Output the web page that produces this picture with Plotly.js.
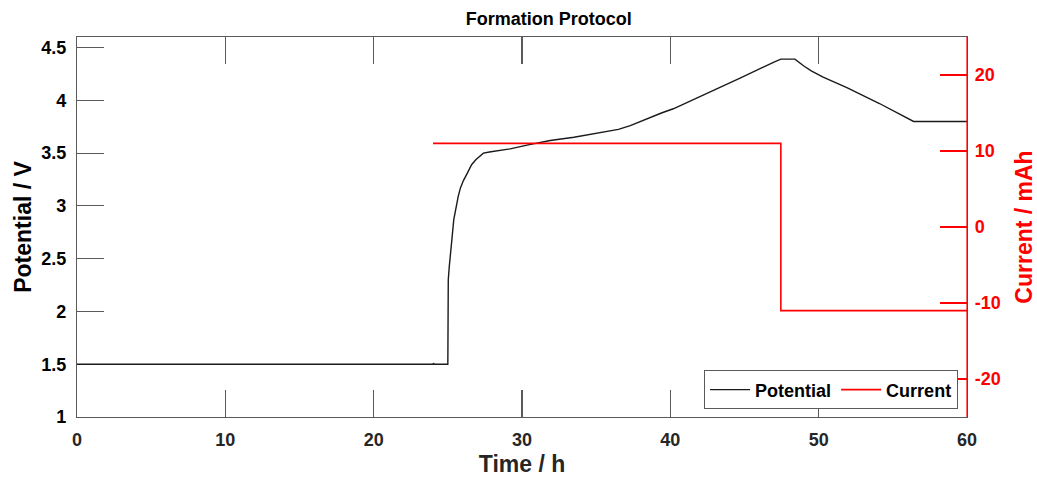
<!DOCTYPE html>
<html>
<head>
<meta charset="utf-8">
<script src="https://cdn.plot.ly/plotly-3.0.1.min.js"></script>
<style>
  html, body { margin: 0; padding: 0; background: #fff; }
  #chart { width: 1037px; height: 477px; }
</style>
</head>
<body>
<div id="chart"></div>
<script>
// Cell potential during the formation protocol (time in h, potential in V)
const potentialTime = [0, 24.0, 24.03, 24.08, 25.0, 25.03, 25.1, 25.2, 25.3, 25.4, 25.55, 25.7, 25.85, 26.05, 26.35, 26.6, 26.9, 27.15, 27.4, 27.8, 28.3, 29.2, 30.5, 31.9,
  33.5, 35.7, 36.5, 37.3, 38.0, 38.6, 39.4, 40.2, 42.4, 44.7, 46.95, 47.45, 48.4, 48.7, 49.0, 49.5, 50.3, 51.1, 51.9, 54.1, 56.4, 60];
const potentialV = [1.5, 1.5, 1.51, 1.5, 1.5, 2.3, 2.43, 2.55, 2.72, 2.87, 2.99, 3.09, 3.17, 3.24, 3.32, 3.39, 3.44, 3.475, 3.50, 3.51, 3.52, 3.54, 3.58, 3.62,
  3.65, 3.70, 3.725, 3.76, 3.80, 3.84, 3.88, 3.92, 4.06, 4.21, 4.36, 4.39, 4.39, 4.355, 4.325, 4.28, 4.22, 4.17, 4.12, 3.97, 3.80, 3.80];

// Applied current steps (time in h, current in mA)
const currentTime = [24.0, 47.45, 47.45, 60];
const currentMA = [11, 11, -11, -11];

// Axis ticks
const timeTicks = [0, 10, 20, 30, 40, 50, 60];
const potentialTicks = [1, 1.5, 2, 2.5, 3, 3.5, 4, 4.5];
const currentTicks = [-20, -10, 0, 10, 20];
const currentTickText = ['-20', '-10', '0', '10', '20'];

const FONT = 'Liberation Sans, Arial, Helvetica, sans-serif';
const AXIS_GREY = '#262626';
const LINE_GREY = '#5a5a5a';
const RED = '#ff0000';

const traces = [
  {
    x: potentialTime, y: potentialV, name: 'Potential',
    type: 'scatter', mode: 'lines',
    line: { color: '#1a1a1a', width: 1.4 },
    yaxis: 'y'
  },
  {
    x: currentTime, y: currentMA, name: 'Current',
    type: 'scatter', mode: 'lines',
    line: { color: RED, width: 1.6 },
    yaxis: 'y2'
  }
];

const layout = {
  width: 1037, height: 477,
  margin: { l: 77, r: 70, t: 37, b: 60 },
  paper_bgcolor: '#fff', plot_bgcolor: '#fff',
  font: { family: FONT, color: AXIS_GREY },
  title: {
    text: '<b>Formation Protocol</b>',
    font: { family: FONT, size: 18, color: '#000' },
    x: 0.53, xanchor: 'center', xref: 'paper',
    y: 0.96, yanchor: 'middle'
  },
  showlegend: true,
  legend: {
    orientation: 'h',
    x: 0.99, xanchor: 'right',
    y: 0.02, yanchor: 'bottom',
    bgcolor: '#fff', bordercolor: LINE_GREY, borderwidth: 1,
    font: { family: FONT, size: 18, color: '#000', weight: 'bold' },
    itemwidth: 40
  },
  xaxis: {
    range: [0, 60],
    tickvals: timeTicks,
    ticks: 'inside', ticklen: 27, tickwidth: 1.2, tickcolor: LINE_GREY,
    showline: true, linecolor: LINE_GREY, linewidth: 1.2,
    mirror: 'ticks',
    showgrid: false, zeroline: false,
    layer: 'below traces',
    tickfont: { family: FONT, size: 18, color: AXIS_GREY, weight: 'bold' },
    ticklabelstandoff: 6,
    title: { text: '<b>Time / h</b>', font: { family: FONT, size: 23, color: AXIS_GREY }, standoff: 9 }
  },
  yaxis: {
    range: [1, 4.6],
    tickvals: potentialTicks,
    ticktext: potentialTicks.map(String),
    ticks: 'inside', ticklen: 27, tickwidth: 1.2, tickcolor: LINE_GREY,
    showline: true, linecolor: LINE_GREY, linewidth: 1.2,
    mirror: false,
    showgrid: false, zeroline: false,
    layer: 'below traces',
    tickfont: { family: FONT, size: 18, color: '#000', weight: 'bold' },
    ticklabelstandoff: 6,
    title: { text: '<b>Potential / V</b>', font: { family: FONT, size: 23, color: '#000' }, standoff: 3 }
  },
  yaxis2: {
    overlaying: 'y', side: 'right', anchor: 'x',
    range: [-25, 25],
    tickvals: currentTicks,
    ticktext: currentTickText,
    ticks: 'inside', ticklen: 27, tickwidth: 1.2, tickcolor: RED,
    showline: true, linecolor: RED, linewidth: 1.2,
    showgrid: false, zeroline: false,
    tickfont: { family: FONT, size: 18, color: RED, weight: 'bold' },
    ticklabelstandoff: 3,
    title: { text: '<b>Current / mAh</b>', font: { family: FONT, size: 23, color: RED }, standoff: 17 }
  },
  // Red spine for the current axis on the right edge of the plot
  shapes: [
    { type: 'line', xref: 'paper', yref: 'paper', x0: 1, x1: 1, y0: 0, y1: 1,
      line: { color: RED, width: 1.2 }, layer: 'above' }
  ]
};

Plotly.newPlot('chart', traces, layout, { displayModeBar: false, staticPlot: true });
</script>
</body>
</html>
